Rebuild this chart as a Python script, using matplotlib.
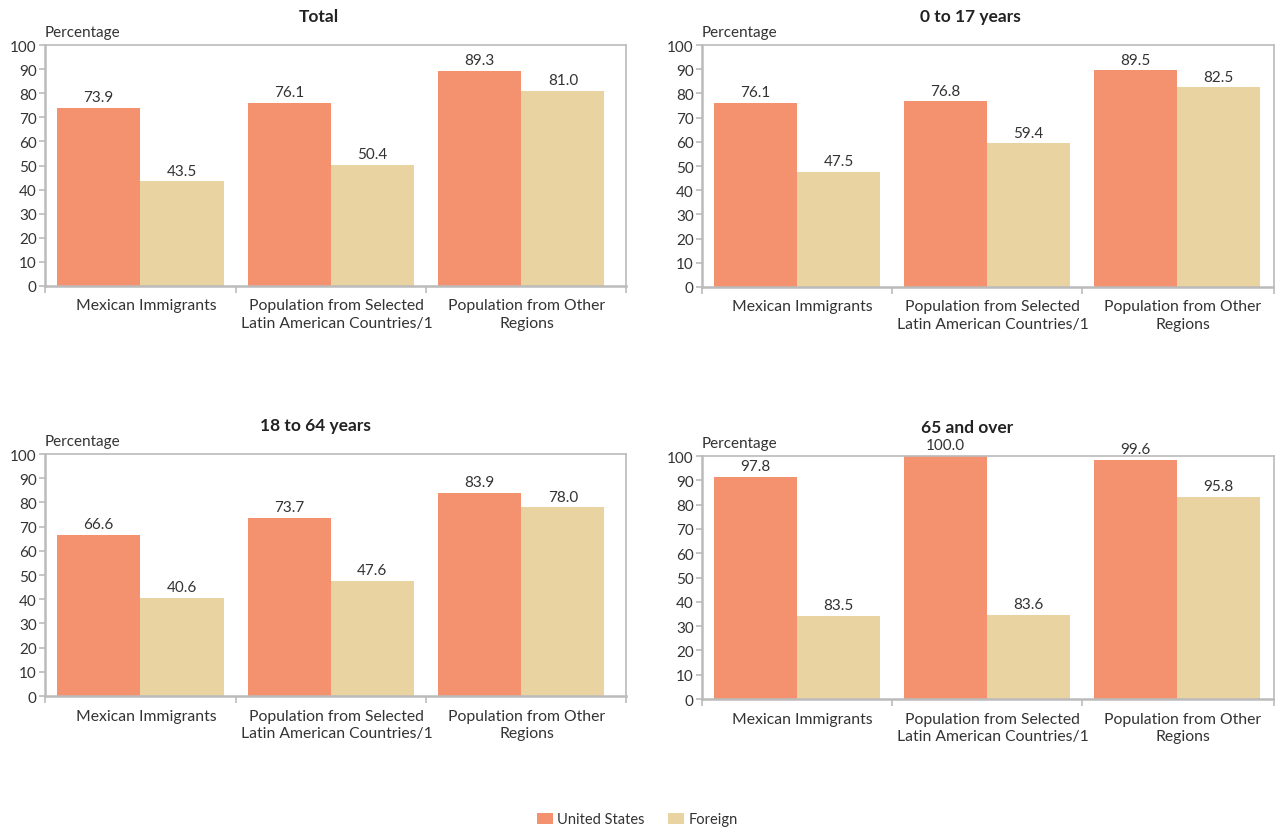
import matplotlib.pyplot as plt
import numpy as np

plt.rcParams['font.family'] = ['Lato', 'DejaVu Sans']

groups = ['Mexican Immigrants',
          'Population from Selected\nLatin American Countries/1',
          'Population from Other\nRegions']

titles = ['Total', '0 to 17 years', '18 to 64 years', '65 and over']

# bar heights as drawn
us_vals = [[73.9, 76.1, 89.3],
           [76.1, 76.8, 89.5],
           [66.6, 73.7, 83.9],
           [91.5, 100.0, 98.4]]
foreign_vals = [[43.5, 50.4, 81.0],
                [47.5, 59.4, 82.5],
                [40.6, 47.6, 78.0],
                [34.3, 34.7, 83.1]]

# printed labels (the 65+ panel labels differ from the drawn bars)
us_labels = [[73.9, 76.1, 89.3],
             [76.1, 76.8, 89.5],
             [66.6, 73.7, 83.9],
             [97.8, 100.0, 99.6]]
foreign_labels = [[43.5, 50.4, 81.0],
                  [47.5, 59.4, 82.5],
                  [40.6, 47.6, 78.0],
                  [83.5, 83.6, 95.8]]

us_color = '#F4916F'
fr_color = '#E8D3A1'
spine_col = '#BBBBBB'
txt_col = '#333333'

# axes rects in figure fractions
rects = [[0.0353, 0.6538, 0.4557, 0.2907],
         [0.5506, 0.6526, 0.4486, 0.2919],
         [0.0353, 0.1592, 0.4557, 0.2919],
         [0.5506, 0.1556, 0.4486, 0.2931]]
xmax = [2.55, 2.51, 2.55, 2.51]
title_x = [0.472, 0.47, 0.466, 0.463]

fig = plt.figure(figsize=(12.75, 8.29), dpi=100)

x = np.arange(len(groups))
w = 0.437

for i in range(4):
    ax = fig.add_axes(rects[i])
    b1 = ax.bar(x - w/2, us_vals[i], w, color=us_color, label='United States')
    b2 = ax.bar(x + w/2, foreign_vals[i], w, color=fr_color, label='Foreign')
    for bar, lab in zip(b1, us_labels[i]):
        ax.text(bar.get_x() + bar.get_width()/2, bar.get_height() + 1.5, '%.1f' % lab,
                ha='center', va='bottom', fontsize=11, color=txt_col)
    for bar, lab in zip(b2, foreign_labels[i]):
        ax.text(bar.get_x() + bar.get_width()/2, bar.get_height() + 1.5, '%.1f' % lab,
                ha='center', va='bottom', fontsize=11, color=txt_col)

    ax.set_xlim(-0.5, xmax[i])
    ax.set_ylim(0, 100)
    ax.set_yticks(range(0, 101, 10))
    ax.set_xticks([-0.5, 0.5, 1.5, xmax[i]])
    ax.set_xticklabels([])
    ax.set_xticks(x + 0.03, minor=True)
    ax.set_xticklabels(groups, minor=True, fontsize=11.3, color=txt_col, linespacing=1.3)
    ax.tick_params(axis='x', which='minor', length=0, pad=9)
    ax.tick_params(axis='x', which='major', length=5, width=1.2, color=spine_col, direction='out')
    ax.tick_params(axis='y', length=4, width=1.2, color=spine_col, labelsize=11,
                   labelcolor=txt_col, pad=2)
    for s in ax.spines.values():
        s.set_color(spine_col)
        s.set_linewidth(1.2)
    ax.spines['left'].set_linewidth(1.8)
    ax.spines['bottom'].set_linewidth(1.8)

    ax.text(title_x[i], 1.12, titles[i], transform=ax.transAxes, ha='center', va='center',
            fontsize=12.5, fontweight='bold', color='#222222')
    ax.text(0.0, 1.025, 'Percentage', transform=ax.transAxes, ha='left', va='bottom',
            fontsize=11, color=txt_col)

    if i == 0:
        handles = [b1, b2]

fig.legend(handles, ['United States', 'Foreign'], loc='lower center',
           bbox_to_anchor=(0.5, -0.014), ncol=2, frameon=False, fontsize=10.5,
           handlelength=1.1, handleheight=0.8, handletextpad=0.3, columnspacing=1.6,
           labelcolor=txt_col)

fig.savefig('out.png', dpi=100)
